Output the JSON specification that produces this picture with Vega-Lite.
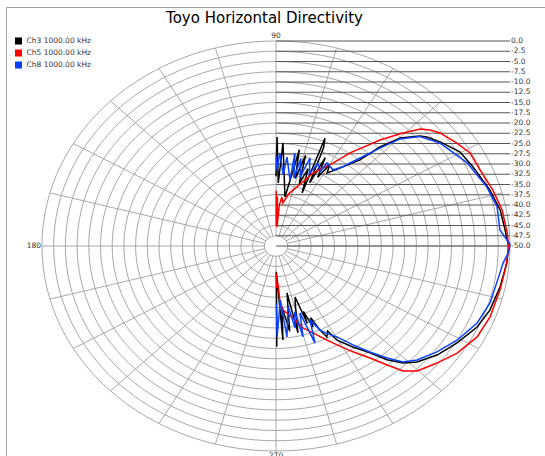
{
  "$schema": "https://vega.github.io/schema/vega-lite/v6.json",
  "width": 540,
  "height": 450,
  "autosize": {"type": "none"},
  "padding": {"left": 6, "top": 7, "right": -1, "bottom": -1},
  "background": "white",
  "config": {"view": {"stroke": "#a0a0a0", "strokeWidth": 1}, "font": "DejaVu Sans"},
  "title": {"text": "Toyo Horizontal Directivity", "fontSize": 15, "fontWeight": "normal", "font": "DejaVu Sans", "color": "#000000", "anchor": "middle", "frame": "group", "offset": -31, "baseline": "alphabetic", "dx": -11.5},
  "datasets": {
    "levels": [
      {"db": 0, "label": "0.0"}, {"db": -2.5, "label": "-2.5"}, {"db": -5, "label": "-5.0"}, {"db": -7.5, "label": "-7.5"},
      {"db": -10, "label": "-10.0"}, {"db": -12.5, "label": "-12.5"}, {"db": -15, "label": "-15.0"}, {"db": -17.5, "label": "-17.5"},
      {"db": -20, "label": "-20.0"}, {"db": -22.5, "label": "-22.5"}, {"db": -25, "label": "-25.0"}, {"db": -27.5, "label": "-27.5"},
      {"db": -30, "label": "-30.0"}, {"db": -32.5, "label": "-32.5"}, {"db": -35, "label": "-35.0"}, {"db": -37.5, "label": "-37.5"},
      {"db": -40, "label": "-40.0"}, {"db": -42.5, "label": "-42.5"}, {"db": -45, "label": "-45.0"}, {"db": -47.5, "label": "-47.5"},
      {"db": -50, "label": "-50.0"}
    ],
    "spokes": [
      {"a": 0}, {"a": 15}, {"a": 30}, {"a": 45}, {"a": 60}, {"a": 75}, {"a": 90}, {"a": 105}, {"a": 120}, {"a": 135}, {"a": 150}, {"a": 165},
      {"a": 180}, {"a": 195}, {"a": 210}, {"a": 225}, {"a": 240}, {"a": 255}, {"a": 270}, {"a": 285}, {"a": 300}, {"a": 315}, {"a": 330}, {"a": 345}
    ],
    "angleLabels": [
      {"a": 90, "t": "90"}, {"a": 180, "t": "180"}, {"a": 270, "t": "270"}
    ],
    "curves": [
      {"ch": "Ch3 1000.00 kHz", "a": -89.6, "db": -25.4}, {"ch": "Ch3 1000.00 kHz", "a": -89.3, "db": -43.7},
      {"ch": "Ch3 1000.00 kHz", "a": -86.3, "db": -27.0}, {"ch": "Ch3 1000.00 kHz", "a": -85.1, "db": -35.1},
      {"ch": "Ch3 1000.00 kHz", "a": -82.0, "db": -29.0}, {"ch": "Ch3 1000.00 kHz", "a": -78.4, "db": -38.3},
      {"ch": "Ch3 1000.00 kHz", "a": -77.5, "db": -28.3}, {"ch": "Ch3 1000.00 kHz", "a": -74.0, "db": -35.0},
      {"ch": "Ch3 1000.00 kHz", "a": -71.9, "db": -36.9}, {"ch": "Ch3 1000.00 kHz", "a": -70.5, "db": -30.0},
      {"ch": "Ch3 1000.00 kHz", "a": -69.9, "db": -33.0}, {"ch": "Ch3 1000.00 kHz", "a": -68.2, "db": -28.7},
      {"ch": "Ch3 1000.00 kHz", "a": -67.0, "db": -31.0}, {"ch": "Ch3 1000.00 kHz", "a": -65.4, "db": -27.5},
      {"ch": "Ch3 1000.00 kHz", "a": -63.9, "db": -25.3}, {"ch": "Ch3 1000.00 kHz", "a": -62.0, "db": -26.5},
      {"ch": "Ch3 1000.00 kHz", "a": -60.4, "db": -23.6}, {"ch": "Ch3 1000.00 kHz", "a": -56.3, "db": -20.4},
      {"ch": "Ch3 1000.00 kHz", "a": -52.4, "db": -17.1}, {"ch": "Ch3 1000.00 kHz", "a": -49.5, "db": -13.5},
      {"ch": "Ch3 1000.00 kHz", "a": -46.4, "db": -10.6}, {"ch": "Ch3 1000.00 kHz", "a": -43.2, "db": -8.7},
      {"ch": "Ch3 1000.00 kHz", "a": -37.7, "db": -6.5}, {"ch": "Ch3 1000.00 kHz", "a": -31.5, "db": -4.7},
      {"ch": "Ch3 1000.00 kHz", "a": -24.7, "db": -2.7}, {"ch": "Ch3 1000.00 kHz", "a": -18.9, "db": -1.7},
      {"ch": "Ch3 1000.00 kHz", "a": -11.8, "db": -1.1}, {"ch": "Ch3 1000.00 kHz", "a": -4.8, "db": -0.5},
      {"ch": "Ch3 1000.00 kHz", "a": 0, "db": -0.3}, {"ch": "Ch3 1000.00 kHz", "a": 4.6, "db": -0.9},
      {"ch": "Ch3 1000.00 kHz", "a": 10.4, "db": -1.3}, {"ch": "Ch3 1000.00 kHz", "a": 16.6, "db": -2.3},
      {"ch": "Ch3 1000.00 kHz", "a": 24.6, "db": -3.7}, {"ch": "Ch3 1000.00 kHz", "a": 30.3, "db": -4.5},
      {"ch": "Ch3 1000.00 kHz", "a": 35.9, "db": -6.7}, {"ch": "Ch3 1000.00 kHz", "a": 39.5, "db": -8.2},
      {"ch": "Ch3 1000.00 kHz", "a": 41.1, "db": -9.2}, {"ch": "Ch3 1000.00 kHz", "a": 44.8, "db": -12.6},
      {"ch": "Ch3 1000.00 kHz", "a": 47.4, "db": -17.2}, {"ch": "Ch3 1000.00 kHz", "a": 49.5, "db": -22.4},
      {"ch": "Ch3 1000.00 kHz", "a": 54.3, "db": -26.6}, {"ch": "Ch3 1000.00 kHz", "a": 58.5, "db": -29.1},
      {"ch": "Ch3 1000.00 kHz", "a": 60, "db": -27}, {"ch": "Ch3 1000.00 kHz", "a": 62, "db": -31},
      {"ch": "Ch3 1000.00 kHz", "a": 64, "db": -26}, {"ch": "Ch3 1000.00 kHz", "a": 65, "db": -33},
      {"ch": "Ch3 1000.00 kHz", "a": 67, "db": -24}, {"ch": "Ch3 1000.00 kHz", "a": 68.3, "db": -21.7},
      {"ch": "Ch3 1000.00 kHz", "a": 66.7, "db": -35.9}, {"ch": "Ch3 1000.00 kHz", "a": 70, "db": -30},
      {"ch": "Ch3 1000.00 kHz", "a": 72, "db": -34}, {"ch": "Ch3 1000.00 kHz", "a": 74, "db": -27},
      {"ch": "Ch3 1000.00 kHz", "a": 76, "db": -33}, {"ch": "Ch3 1000.00 kHz", "a": 78, "db": -26},
      {"ch": "Ch3 1000.00 kHz", "a": 80.9, "db": -37.9}, {"ch": "Ch3 1000.00 kHz", "a": 86.6, "db": -24.8},
      {"ch": "Ch3 1000.00 kHz", "a": 88.2, "db": -34.6}, {"ch": "Ch3 1000.00 kHz", "a": 89.5, "db": -23.4},
      {"ch": "Ch3 1000.00 kHz", "a": 90, "db": -33},

      {"ch": "Ch5 1000.00 kHz", "a": -89.9, "db": -43.4}, {"ch": "Ch5 1000.00 kHz", "a": -89.0, "db": -39.8},
      {"ch": "Ch5 1000.00 kHz", "a": -87.5, "db": -41.0}, {"ch": "Ch5 1000.00 kHz", "a": -86.4, "db": -36.3},
      {"ch": "Ch5 1000.00 kHz", "a": -84.5, "db": -34.3}, {"ch": "Ch5 1000.00 kHz", "a": -78.3, "db": -32.1},
      {"ch": "Ch5 1000.00 kHz", "a": -73.9, "db": -29.2}, {"ch": "Ch5 1000.00 kHz", "a": -69.6, "db": -27.4},
      {"ch": "Ch5 1000.00 kHz", "a": -64.6, "db": -24.6}, {"ch": "Ch5 1000.00 kHz", "a": -61.6, "db": -22.6},
      {"ch": "Ch5 1000.00 kHz", "a": -57.5, "db": -19.4}, {"ch": "Ch5 1000.00 kHz", "a": -53.7, "db": -16.1},
      {"ch": "Ch5 1000.00 kHz", "a": -50.7, "db": -12.5}, {"ch": "Ch5 1000.00 kHz", "a": -48.3, "db": -9.2},
      {"ch": "Ch5 1000.00 kHz", "a": -45.3, "db": -7.1}, {"ch": "Ch5 1000.00 kHz", "a": -39.7, "db": -5.3},
      {"ch": "Ch5 1000.00 kHz", "a": -34.0, "db": -3.3}, {"ch": "Ch5 1000.00 kHz", "a": -27.3, "db": -1.65},
      {"ch": "Ch5 1000.00 kHz", "a": -20.7, "db": -1.1}, {"ch": "Ch5 1000.00 kHz", "a": -12.6, "db": -0.95},
      {"ch": "Ch5 1000.00 kHz", "a": -6.8, "db": -0.7}, {"ch": "Ch5 1000.00 kHz", "a": -2.0, "db": -0.4},
      {"ch": "Ch5 1000.00 kHz", "a": 0, "db": -0.3}, {"ch": "Ch5 1000.00 kHz", "a": 3.7, "db": -0.5},
      {"ch": "Ch5 1000.00 kHz", "a": 10.3, "db": -0.9}, {"ch": "Ch5 1000.00 kHz", "a": 16.4, "db": -1.7},
      {"ch": "Ch5 1000.00 kHz", "a": 23.0, "db": -2.6}, {"ch": "Ch5 1000.00 kHz", "a": 28.7, "db": -2.75},
      {"ch": "Ch5 1000.00 kHz", "a": 33.0, "db": -3.9}, {"ch": "Ch5 1000.00 kHz", "a": 38.2, "db": -5.4},
      {"ch": "Ch5 1000.00 kHz", "a": 40.7, "db": -6.6}, {"ch": "Ch5 1000.00 kHz", "a": 42.8, "db": -8.0},
      {"ch": "Ch5 1000.00 kHz", "a": 45.9, "db": -11.9}, {"ch": "Ch5 1000.00 kHz", "a": 49.3, "db": -15.9},
      {"ch": "Ch5 1000.00 kHz", "a": 55.1, "db": -22.3}, {"ch": "Ch5 1000.00 kHz", "a": 59.0, "db": -26.4},
      {"ch": "Ch5 1000.00 kHz", "a": 66.0, "db": -30.5}, {"ch": "Ch5 1000.00 kHz", "a": 72.7, "db": -34.9},
      {"ch": "Ch5 1000.00 kHz", "a": 78.0, "db": -37.0}, {"ch": "Ch5 1000.00 kHz", "a": 81.9, "db": -39.4},
      {"ch": "Ch5 1000.00 kHz", "a": 84.0, "db": -38.0}, {"ch": "Ch5 1000.00 kHz", "a": 86.0, "db": -40.0},
      {"ch": "Ch5 1000.00 kHz", "a": 87.4, "db": -45.4}, {"ch": "Ch5 1000.00 kHz", "a": 88.5, "db": -38.0},
      {"ch": "Ch5 1000.00 kHz", "a": 89.5, "db": -45.0}, {"ch": "Ch5 1000.00 kHz", "a": 89.8, "db": -36.5},

      {"ch": "Ch8 1000.00 kHz", "a": -89.6, "db": -36.0}, {"ch": "Ch8 1000.00 kHz", "a": -89.4, "db": -27.8},
      {"ch": "Ch8 1000.00 kHz", "a": -86.0, "db": -36.8}, {"ch": "Ch8 1000.00 kHz", "a": -84.0, "db": -27.7},
      {"ch": "Ch8 1000.00 kHz", "a": -80.0, "db": -35.0}, {"ch": "Ch8 1000.00 kHz", "a": -78.5, "db": -29.6},
      {"ch": "Ch8 1000.00 kHz", "a": -76.0, "db": -33.5}, {"ch": "Ch8 1000.00 kHz", "a": -75.4, "db": -27.1},
      {"ch": "Ch8 1000.00 kHz", "a": -72.6, "db": -32.9}, {"ch": "Ch8 1000.00 kHz", "a": -70.6, "db": -24.9},
      {"ch": "Ch8 1000.00 kHz", "a": -68.1, "db": -30.5}, {"ch": "Ch8 1000.00 kHz", "a": -65.4, "db": -27.5},
      {"ch": "Ch8 1000.00 kHz", "a": -63.0, "db": -26.0}, {"ch": "Ch8 1000.00 kHz", "a": -59.6, "db": -24.3},
      {"ch": "Ch8 1000.00 kHz", "a": -55.7, "db": -20.8}, {"ch": "Ch8 1000.00 kHz", "a": -52.2, "db": -17.3},
      {"ch": "Ch8 1000.00 kHz", "a": -49.0, "db": -13.8}, {"ch": "Ch8 1000.00 kHz", "a": -46.2, "db": -10.8},
      {"ch": "Ch8 1000.00 kHz", "a": -42.7, "db": -9.0}, {"ch": "Ch8 1000.00 kHz", "a": -36.9, "db": -7.0},
      {"ch": "Ch8 1000.00 kHz", "a": -30.7, "db": -5.0}, {"ch": "Ch8 1000.00 kHz", "a": -23.6, "db": -3.1},
      {"ch": "Ch8 1000.00 kHz", "a": -16.9, "db": -2.2}, {"ch": "Ch8 1000.00 kHz", "a": -7.8, "db": -1.7},
      {"ch": "Ch8 1000.00 kHz", "a": -4.9, "db": -1.3}, {"ch": "Ch8 1000.00 kHz", "a": -1.5, "db": -0.2},
      {"ch": "Ch8 1000.00 kHz", "a": 0.5, "db": 0.0}, {"ch": "Ch8 1000.00 kHz", "a": 4.7, "db": -2.0},
      {"ch": "Ch8 1000.00 kHz", "a": 11.4, "db": -1.8}, {"ch": "Ch8 1000.00 kHz", "a": 17.7, "db": -2.7},
      {"ch": "Ch8 1000.00 kHz", "a": 26.4, "db": -4.4}, {"ch": "Ch8 1000.00 kHz", "a": 32.2, "db": -6.1},
      {"ch": "Ch8 1000.00 kHz", "a": 35.6, "db": -6.9}, {"ch": "Ch8 1000.00 kHz", "a": 41.0, "db": -9.3},
      {"ch": "Ch8 1000.00 kHz", "a": 44.6, "db": -12.8}, {"ch": "Ch8 1000.00 kHz", "a": 47.1, "db": -17.4},
      {"ch": "Ch8 1000.00 kHz", "a": 52.0, "db": -24.3}, {"ch": "Ch8 1000.00 kHz", "a": 53.6, "db": -26.0},
      {"ch": "Ch8 1000.00 kHz", "a": 56.7, "db": -27.8}, {"ch": "Ch8 1000.00 kHz", "a": 61.7, "db": -27.0},
      {"ch": "Ch8 1000.00 kHz", "a": 62.5, "db": -29.6}, {"ch": "Ch8 1000.00 kHz", "a": 66.0, "db": -28.0},
      {"ch": "Ch8 1000.00 kHz", "a": 68.0, "db": -31.0}, {"ch": "Ch8 1000.00 kHz", "a": 71.3, "db": -27.3},
      {"ch": "Ch8 1000.00 kHz", "a": 73.0, "db": -32.4}, {"ch": "Ch8 1000.00 kHz", "a": 76.0, "db": -28.0},
      {"ch": "Ch8 1000.00 kHz", "a": 77.0, "db": -33.0}, {"ch": "Ch8 1000.00 kHz", "a": 79.9, "db": -27.0},
      {"ch": "Ch8 1000.00 kHz", "a": 79.5, "db": -33.6}, {"ch": "Ch8 1000.00 kHz", "a": 83.8, "db": -28.2},
      {"ch": "Ch8 1000.00 kHz", "a": 85.0, "db": -32.6}, {"ch": "Ch8 1000.00 kHz", "a": 87.9, "db": -27.3},
      {"ch": "Ch8 1000.00 kHz", "a": 89.4, "db": -31.5}, {"ch": "Ch8 1000.00 kHz", "a": 90.0, "db": -28.0}
    ]
  },
  "layer": [
    {
      "data": {"name": "levels"},
      "transform": [{"calculate": "datum.db + 50", "as": "r"}],
      "mark": {"type": "point", "shape": "M-1,0A1,0.8761,0,1,1,1,0A1,0.8761,0,1,1,-1,0Z", "filled": false, "stroke": "#a8a8a8", "strokeWidth": 1, "opacity": 1},
      "encoding": {
        "x": {"datum": 0, "type": "quantitative", "scale": {"domain": [-57.692, 57.692], "nice": false, "zero": false}, "axis": null},
        "y": {"datum": 0, "type": "quantitative", "scale": {"domain": [-51.463, 58.293], "nice": false, "zero": false}, "axis": null},
        "size": {"field": "r", "type": "quantitative", "scale": {"type": "pow", "exponent": 2, "domain": [0, 50], "range": [0, 219024]}, "legend": null}
      }
    },
    {
      "data": {"name": "spokes"},
      "transform": [
        {"calculate": "2.5 * cos(datum.a * PI / 180)", "as": "xa"},
        {"calculate": "2.5 * sin(datum.a * PI / 180)", "as": "ya"},
        {"calculate": "50 * cos(datum.a * PI / 180)", "as": "xb"},
        {"calculate": "50 * sin(datum.a * PI / 180)", "as": "yb"}
      ],
      "mark": {"type": "rule", "stroke": "#a8a8a8", "strokeWidth": 1},
      "encoding": {
        "x": {"field": "xa", "type": "quantitative", "scale": {"domain": [-57.692, 57.692], "nice": false, "zero": false}, "axis": null},
        "y": {"field": "ya", "type": "quantitative", "scale": {"domain": [-51.463, 58.293], "nice": false, "zero": false}, "axis": null},
        "x2": {"field": "xb"},
        "y2": {"field": "yb"}
      }
    },
    {
      "data": {"name": "levels"},
      "transform": [{"calculate": "datum.db + 50", "as": "r"}],
      "mark": {"type": "rule", "stroke": "#555555", "strokeWidth": 1},
      "encoding": {
        "x": {"datum": 0, "type": "quantitative", "scale": {"domain": [-57.692, 57.692], "nice": false, "zero": false}, "axis": null},
        "x2": {"datum": 50},
        "y": {"field": "r", "type": "quantitative", "scale": {"domain": [-51.463, 58.293], "nice": false, "zero": false}, "axis": null}
      }
    },
    {
      "data": {"name": "levels"},
      "transform": [{"calculate": "datum.db + 50", "as": "r"}],
      "mark": {"type": "text", "align": "left", "baseline": "middle", "dx": 1, "fontSize": 7.5, "font": "DejaVu Sans", "fill": "#333333"},
      "encoding": {
        "x": {"datum": 50, "type": "quantitative", "scale": {"domain": [-57.692, 57.692], "nice": false, "zero": false}, "axis": null},
        "y": {"field": "r", "type": "quantitative", "scale": {"domain": [-51.463, 58.293], "nice": false, "zero": false}, "axis": null},
        "text": {"field": "label"}
      }
    },
    {
      "data": {"name": "angleLabels"},
      "transform": [{"filter": "datum.a == 90"}],
      "mark": {"type": "text", "align": "center", "baseline": "bottom", "dy": -1, "fontSize": 7.5, "font": "DejaVu Sans", "fill": "#333333"},
      "encoding": {
        "x": {"datum": 0, "type": "quantitative", "scale": {"domain": [-57.692, 57.692], "nice": false, "zero": false}, "axis": null},
        "y": {"datum": 50, "type": "quantitative", "scale": {"domain": [-51.463, 58.293], "nice": false, "zero": false}, "axis": null},
        "text": {"field": "t"}
      }
    },
    {
      "data": {"name": "angleLabels"},
      "transform": [{"filter": "datum.a == 180"}],
      "mark": {"type": "text", "align": "right", "baseline": "middle", "dx": -1, "fontSize": 7.5, "font": "DejaVu Sans", "fill": "#333333"},
      "encoding": {
        "x": {"datum": -50, "type": "quantitative", "scale": {"domain": [-57.692, 57.692], "nice": false, "zero": false}, "axis": null},
        "y": {"datum": 0, "type": "quantitative", "scale": {"domain": [-51.463, 58.293], "nice": false, "zero": false}, "axis": null},
        "text": {"field": "t"}
      }
    },
    {
      "data": {"name": "angleLabels"},
      "transform": [{"filter": "datum.a == 270"}],
      "mark": {"type": "text", "align": "center", "baseline": "top", "dy": 1, "fontSize": 7.5, "font": "DejaVu Sans", "fill": "#333333"},
      "encoding": {
        "x": {"datum": 0, "type": "quantitative", "scale": {"domain": [-57.692, 57.692], "nice": false, "zero": false}, "axis": null},
        "y": {"datum": -50, "type": "quantitative", "scale": {"domain": [-51.463, 58.293], "nice": false, "zero": false}, "axis": null},
        "text": {"field": "t"}
      }
    },
    {
      "data": {"name": "curves"},
      "transform": [
        {"calculate": "datum.db + 50", "as": "r"},
        {"calculate": "datum.r * cos(datum.a * PI / 180)", "as": "px"},
        {"calculate": "datum.r * sin(datum.a * PI / 180)", "as": "py"}
      ],
      "mark": {"type": "line", "strokeWidth": 1.5, "strokeJoin": "miter"},
      "encoding": {
        "x": {"field": "px", "type": "quantitative", "scale": {"domain": [-57.692, 57.692], "nice": false, "zero": false}, "axis": null},
        "y": {"field": "py", "type": "quantitative", "scale": {"domain": [-51.463, 58.293], "nice": false, "zero": false}, "axis": null},
        "order": {"value": null},
        "color": {
          "field": "ch", "type": "nominal",
          "scale": {"domain": ["Ch3 1000.00 kHz", "Ch5 1000.00 kHz", "Ch8 1000.00 kHz"], "range": ["#000000", "#ff0000", "#0a40ff"]},
          "legend": {
            "title": null, "orient": "none", "legendX": 8.5, "legendY": 30, "padding": 0,
            "symbolType": "square", "symbolSize": 50, "symbolStrokeWidth": 0,
            "labelFontSize": 7.5, "labelFont": "DejaVu Sans", "labelColor": "#333333", "labelOffset": 4, "rowPadding": 4,
            "encode": {"symbols": {"update": {"fill": {"scale": "color", "field": "value"}, "opacity": {"value": 1}}}}
          }
        }
      }
    }
  ]
}
